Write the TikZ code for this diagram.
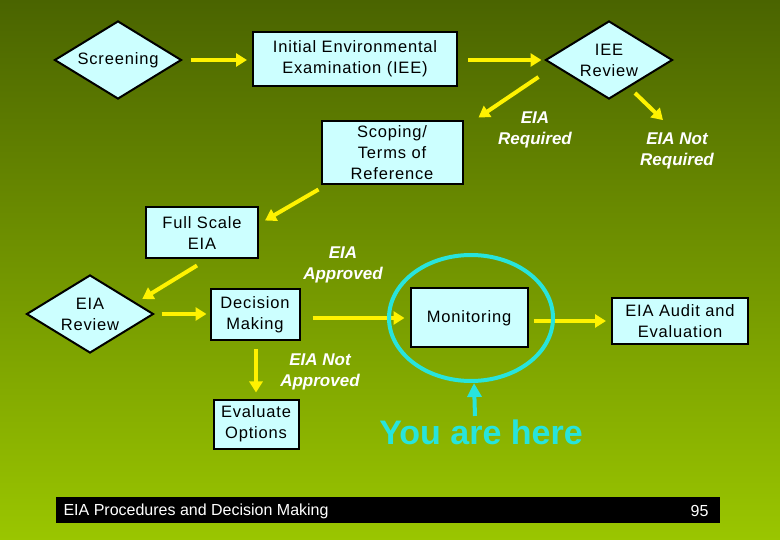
\documentclass[tikz,border=0pt]{standalone}
\usepackage{fontspec}
\setmainfont{Liberation Sans}
\newfontfamily\boxfont[LetterSpace=5]{Liberation Sans}
\usetikzlibrary{shapes.geometric,arrows.meta}
\definecolor{boxcyan}{RGB}{204,255,255}
\definecolor{herecyan}{RGB}{40,228,220}
\definecolor{bgtop}{RGB}{74,100,0}
\definecolor{bgbot}{RGB}{154,198,0}

\begin{document}
\begin{tikzpicture}[x=1pt,y=-1pt,
	stepbox/.style={draw=black,line width=2pt,fill=boxcyan,align=center,inner sep=0pt,
		font=\boxfont\fontsize{16.5}{21}\selectfont},
	decision/.style={stepbox,diamond,aspect=1.6,minimum width=127pt,minimum height=78pt},
	flow/.style={draw=yellow,line width=4pt,-{Triangle[length=11pt,width=13pt]}},
	result/.style={text=white,align=center,font=\bfseries\itshape\fontsize{17}{21.5}\selectfont}]
	% background and footer
	\fill[top color=bgtop,bottom color=bgbot] (0,0) rectangle (780,540);
	\fill[black] (56,497) rectangle (720,523);
	\node[anchor=west,text=white,font=\fontsize{16}{16}\selectfont] (ftitle) at (60,511) {EIA Procedures and Decision Making};
	\node[anchor=east,text=white,font=\fontsize{16}{16}\selectfont] (fpage) at (712,511) {95};
	% steps
		\node[decision] (scr) at (118,60) {Screening};
		\node[stepbox,minimum width=204pt,minimum height=54pt] (iee) at (355,59) {Initial Environmental\\Examination (IEE)};
		\node[decision] (rev) at (609,60) {IEE\\Review};
		\node[stepbox,minimum width=141pt,minimum height=63pt] (scp) at (392,153) {Scoping/\\Terms of\\Reference};
		\node[stepbox,minimum width=112pt,minimum height=51pt] (full) at (202,233) {Full Scale\\EIA};
		\node[decision] (eiarev) at (90,314) {EIA\\Review};
		\node[stepbox,minimum width=89pt,minimum height=51pt] (dec) at (255,315) {Decision\\Making};
		\node[stepbox,minimum width=117pt,minimum height=59pt] (mon) at (469,318) {Monitoring};
		\node[stepbox,minimum width=136pt,minimum height=46pt] (aud) at (680,321) {EIA Audit and\\Evaluation};
		\node[stepbox,minimum width=85pt,minimum height=49pt] (eval) at (256,424) {Evaluate\\Options};
	% outcomes
		\node[result] (req) at (535,130) {EIA\\Required};
		\node[result] (notreq) at (677,151) {EIA Not\\Required};
		\node[result] (appr) at (343,265) {EIA\\Approved};
		\node[result] (notappr) at (320,372) {EIA Not\\Approved};
	% flow
		\draw[flow,shorten <=8pt,shorten >=5pt] (scr) -- (iee.west |- scr);
		\draw[flow,shorten <=10pt,shorten >=3pt] (iee.east |- rev) -- (rev.west);
		\draw[flow] ([shift={(-6,17)}]rev.west) -- ([shift={(15,-3)}]scp.north east);
		\draw[flow] ([shift={(26,-7)}]rev.south) -- ([shift={(-14,-9)}]notreq.north);
		\draw[flow] ([shift={(-2,4)}]scp.south west) -- ([shift={(6,14)}]full.north east);
		\draw[flow] ([shift={(-5,6)}]full.south) -- ([shift={(20,5)}]eiarev.north east);
		\draw[flow,shorten <=7pt,shorten >=3pt] (eiarev.east) -- (dec.west |- eiarev);
		\draw[flow,shorten <=12pt,shorten >=5pt] (dec.east |- mon.west) -- (mon.west);
		\draw[flow,shorten <=5pt,shorten >=5pt] (mon.east |- aud) -- (aud.west);
		\draw[flow,shorten <=8pt,shorten >=6pt] (eval.north |- dec.south) -- (eval.north);
	% you are here
		\node[ellipse,draw=herecyan,line width=4pt,minimum width=164pt,minimum height=126pt] (circ) at (471,318) {};
		\node[text=herecyan,font=\bfseries\fontsize{34}{34}\selectfont] (here) at (481,432) {You are here};
		\draw[herecyan,line width=4pt,-{Triangle[length=14pt,width=14pt]}] ([xshift=-6pt]here.north) -- ([xshift=3pt]circ.south);
\end{tikzpicture}
\end{document}
